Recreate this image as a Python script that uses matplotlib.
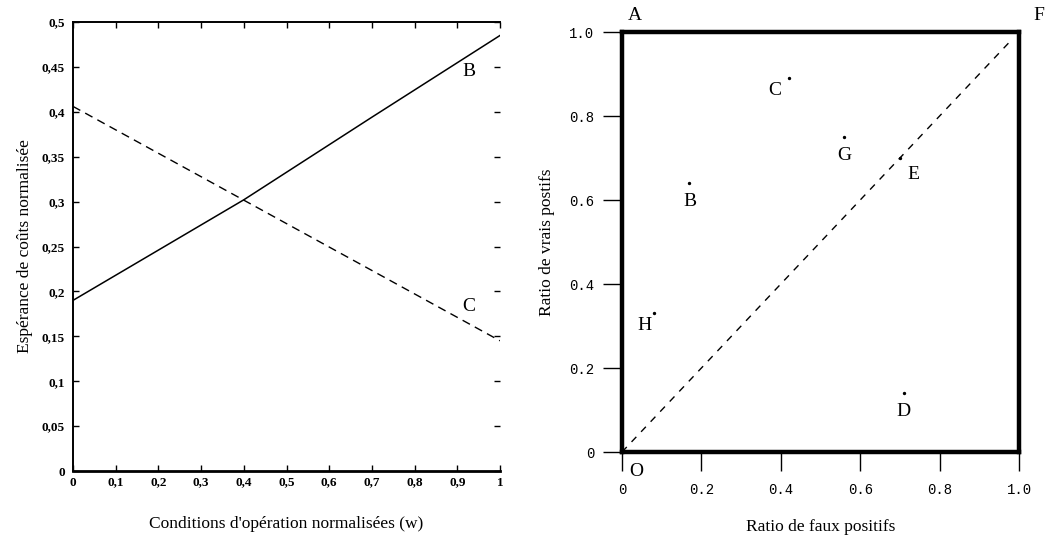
import matplotlib
matplotlib.use("Agg")
import matplotlib.pyplot as plt

# ---- left panel: normalized expected cost vs operating conditions ----
w_b = [0.0, 0.4, 0.7, 1.0]
cost_b = [0.19, 0.302, 0.394, 0.485]
w_c = [0.0, 1.0]
cost_c = [0.406, 0.145]
left_xticks = [0, 0.1, 0.2, 0.3, 0.4, 0.5, 0.6, 0.7, 0.8, 0.9, 1]
left_xlabels = ["0", "0,1", "0,2", "0,3", "0,4", "0,5", "0,6", "0,7", "0,8", "0,9", "1"]
left_yticks = [0, 0.05, 0.1, 0.15, 0.2, 0.25, 0.3, 0.35, 0.4, 0.45, 0.5]
left_ylabels = ["0", "0,05", "0,1", "0,15", "0,2", "0,25", "0,3", "0,35", "0,4", "0,45", "0,5"]

# ---- right panel: ROC space ----
roc_names = ["B", "C", "G", "E", "D", "H"]
roc_fpr = [0.17, 0.42, 0.56, 0.70, 0.71, 0.08]
roc_tpr = [0.64, 0.89, 0.75, 0.70, 0.14, 0.33]
# label offsets (points) relative to each classifier's dot
roc_offsets = [(0, -13), (-10, -9), (0, -13), (10, -12), (0, -13), (-7, -9)]
corner_names = ["A", "F", "O"]
corner_fpr = [0.0, 1.0, 0.0]
corner_tpr = [1.0, 1.0, 0.0]
corner_offsets = [(9, 12), (14, 12), (10, -14)]
diag = [0.0, 0.975]
right_ticks = [0, 0.2, 0.4, 0.6, 0.8, 1.0]
right_labels = ["0", "0.2", "0.4", "0.6", "0.8", "1.0"]

serif = "Liberation Serif"
mono = "Liberation Mono"

fig = plt.figure(figsize=(10.5, 5.42), dpi=100)
fig.patch.set_facecolor("white")

# left axes
ax1 = fig.add_axes([73 / 1050, 1 - 471 / 542, 427 / 1050, 449 / 542])
ax1.plot(w_b, cost_b, color="black", lw=1.1)
ax1.plot(w_c, cost_c, color="black", lw=1.0, linestyle=(0, (6, 4)))
ax1.set_xlim(0, 1)
ax1.set_ylim(0, 0.5)
ax1.set_xticks(left_xticks)
ax1.set_xticklabels(left_xlabels, fontfamily=serif, fontweight="bold", fontsize=9.5)
ax1.set_yticks(left_yticks)
ax1.set_yticklabels(left_ylabels, fontfamily=serif, fontweight="bold", fontsize=9.5)
ax1.tick_params(direction="in", length=4, width=1, top=True, right=True)
ax1.tick_params(axis="x", pad=4)
ax1.tick_params(axis="y", pad=6)
ax1.spines["right"].set_visible(False)
ax1.spines["bottom"].set_linewidth(2)
ax1.spines["left"].set_linewidth(1.4)
ax1.spines["top"].set_linewidth(1.4)
ax1.text(0.927, 0.445, "B", fontfamily=serif, fontsize=14, ha="center", va="center")
ax1.text(0.927, 0.183, "C", fontfamily=serif, fontsize=14, ha="center", va="center")
ax1.set_xlabel("Conditions d'opération normalisées (w)", fontfamily=serif,
               fontsize=12.5, labelpad=20)
ax1.set_ylabel("Espérance de coûts normalisée", fontfamily=serif, fontsize=12.5,
               labelpad=6)

# right axes
ax2 = fig.add_axes([622 / 1050, 1 - 452 / 542, 397 / 1050, 420 / 542])
ax2.plot(diag, diag, color="black", lw=1.0, linestyle=(0, (5, 5)))
ax2.scatter(roc_fpr, roc_tpr, s=2, color="black", zorder=3)
for name, x, y, (dx, dy) in zip(roc_names, roc_fpr, roc_tpr, roc_offsets):
    ax2.annotate(name, (x, y), xytext=(dx, dy), textcoords="offset points",
                 fontfamily=serif, fontsize=14, ha="center", va="center")
for name, x, y, (dx, dy) in zip(corner_names, corner_fpr, corner_tpr, corner_offsets):
    ax2.annotate(name, (x, y), xytext=(dx, dy), textcoords="offset points",
                 fontfamily=serif, fontsize=14, ha="center", va="center",
                 annotation_clip=False)
ax2.set_xlim(0, 1)
ax2.set_ylim(0, 1)
ax2.set_xticks(right_ticks)
ax2.set_xticklabels(right_labels, fontfamily=mono, fontsize=10)
ax2.set_yticks(right_ticks)
ax2.set_yticklabels(right_labels, fontfamily=mono, fontsize=10)
ax2.tick_params(direction="out", length=14, width=1, pad=6)
ax2.tick_params(axis="x", pad=8)
for sp in ax2.spines.values():
    sp.set_linewidth(3.2)
ax2.set_xlabel("Ratio de faux positifs", fontfamily=serif, fontsize=12.5, labelpad=16)
ax2.set_ylabel("Ratio de vrais postifs", fontfamily=serif, fontsize=12.5, labelpad=10)

fig.savefig("out.png", dpi=100, facecolor="white")
